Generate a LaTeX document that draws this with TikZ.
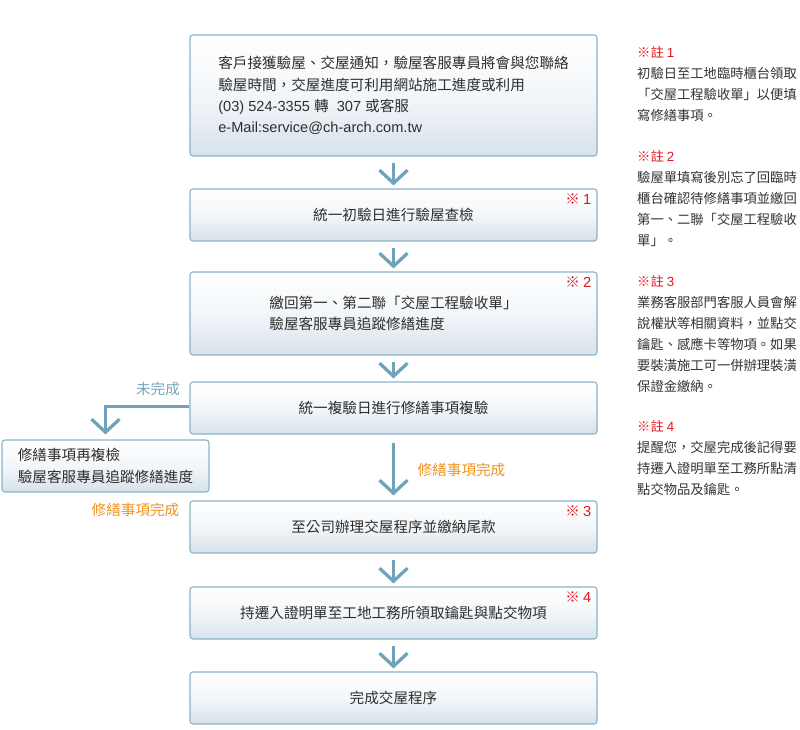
\documentclass[tikz,border=0pt]{standalone}
\usepackage{fontspec}
\setmainfont[Script=CJK,Language=Chinese Traditional]{Noto Sans CJK TC}
\newfontfamily\latf{Liberation Sans}
\usetikzlibrary{arrows.meta}
\definecolor{txt}{HTML}{2E2E2E}
\definecolor{notetxt}{HTML}{333333}
\definecolor{boxline}{HTML}{8AB3C7}
\definecolor{boxbot}{HTML}{D7E2EB}
\definecolor{arrc}{HTML}{6EA3BA}
\definecolor{markred}{HTML}{E5141E}
\definecolor{lblorange}{HTML}{F0921E}
\definecolor{lblblue}{HTML}{74A6BD}
\newcommand\boxfont{\fontsize{14.6pt}{21.3pt}\selectfont}
\newcommand\notefont{\fontsize{13.3pt}{21pt}\selectfont}
\begin{document}
\begin{tikzpicture}[x=1pt,y=-1pt,
  box/.style={draw=boxline, line width=1.1pt, rounded corners=3pt,
    top color=white, bottom color=boxbot, middle color=white!70!boxbot,
    minimum width=407pt, inner sep=0pt, text=txt, font=\boxfont, align=left},
  sidebox/.style={box, minimum width=207pt},
  flow/.style={draw=arrc, line width=3.3pt, -{Straight Barb[length=13pt,width=28pt]}},
  redmark/.style={text=markred, font=\boxfont, anchor=east, inner sep=0pt},
  lbl/.style={font=\boxfont, inner sep=0pt},
  note/.style={font=\notefont, text=notetxt, align=left, anchor=north west, inner sep=0pt}
]
\useasboundingbox (0,0) rectangle (800,730);

% main boxes
\node[box, minimum height=121pt] (b1) at (393.5,95.5)
  {客戶接獲驗屋、交屋通知，驗屋客服專員將會與您聯絡\\
   驗屋時間，交屋進度可利用網站施工進度或利用\\
   {\latf (03) 524-3355 }轉{\latf\ \ 307 }或客服\\
   {\latf e-Mail:service@ch-arch.com.tw}};
\node[box, minimum height=52pt] (b2) at (393.5,215) {統一初驗日進行驗屋查檢};
\node[box, minimum height=83pt] (b3) at (393.5,313.5)
  {繳回第一、第二聯「交屋工程驗收單」\\驗屋客服專員追蹤修繕進度};
\node[box, minimum height=52pt] (b4) at (393.5,408) {統一複驗日進行修繕事項複驗};
\node[sidebox, minimum height=52pt] (side) at (105.5,466)
  {修繕事項再複檢\\驗屋客服專員追蹤修繕進度};
\node[box, minimum height=52pt] (b5) at (393.5,527) {至公司辦理交屋程序並繳納尾款};
\node[box, minimum height=52pt] (b6) at (393.5,613) {持遷入證明單至工地工務所領取鑰匙與點交物項};
\node[box, minimum height=52pt] (b7) at (393.5,698) {完成交屋程序};

% red marks
\node[redmark] (m1) at ([xshift=-6pt,yshift=-11pt]b2.north east) {※ {\latf 1}};
\node[redmark] (m2) at ([xshift=-6pt,yshift=-11pt]b3.north east) {※ {\latf 2}};
\node[redmark] (m3) at ([xshift=-6pt,yshift=-11pt]b5.north east) {※ {\latf 3}};
\node[redmark] (m4) at ([xshift=-6pt,yshift=-11pt]b6.north east) {※ {\latf 4}};

% arrows
\draw[flow] ([yshift=-6pt]b1.south) -- ([yshift=3pt]b2.north);
\draw[flow] ([yshift=-6pt]b2.south) -- ([yshift=3pt]b3.north);
\draw[flow] ([yshift=-6pt]b3.south) -- ([yshift=3pt]b4.north);
\draw[flow] ([yshift=-8pt]b4.south) -- ([yshift=5pt]b5.north);
\draw[flow] ([yshift=-6pt]b5.south) -- ([yshift=3pt]b6.north);
\draw[flow] ([yshift=-6pt]b6.south) -- ([yshift=3pt]b7.north);
\draw[flow] ([yshift=1.5pt]b4.west) -| ([yshift=5pt]side.north);

% labels
\node[lbl, text=lblblue] (l1) at (158,389) {未完成};
\node[lbl, text=lblorange] (l2) at (461.5,470) {修繕事項完成};
\node[lbl, text=lblorange] (l3) at (135.5,510) {修繕事項完成};

% notes
\node[note] (n1) at (637,46)
  {{\color{markred}※註 {\latf 1}}\\初驗日至工地臨時櫃台領取\\「交屋工程驗收單」以便填\\寫修繕事項。};
\node[note] (n2) at (637,150)
  {{\color{markred}※註 {\latf 2}}\\驗屋單填寫後別忘了回臨時\\櫃台確認待修繕事項並繳回\\第一、二聯「交屋工程驗收\\單」。};
\node[note] (n3) at (637,275)
  {{\color{markred}※註 {\latf 3}}\\業務客服部門客服人員會解\\說權狀等相關資料，並點交\\鑰匙、感應卡等物項。如果\\要裝潢施工可一併辦理裝潢\\保證金繳納。};
\node[note] (n4) at (637,420)
  {{\color{markred}※註 {\latf 4}}\\提醒您，交屋完成後記得要\\持遷入證明單至工務所點清\\點交物品及鑰匙。};
\end{tikzpicture}
\end{document}
